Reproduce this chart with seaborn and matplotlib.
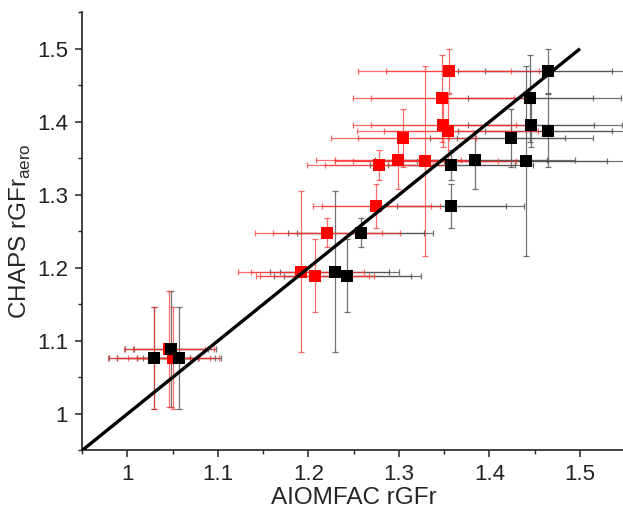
import numpy as np
import pandas as pd
import matplotlib
matplotlib.use("Agg")
import matplotlib.pyplot as plt
import seaborn as sns
from matplotlib.ticker import MultipleLocator, FuncFormatter

# ---- data ----
chaps_y = [1.470, 1.432, 1.396, 1.388, 1.378, 1.348, 1.346, 1.341, 1.285, 1.248, 1.195, 1.189, 1.077, 1.089, 1.077]
chaps_err = [0.03, 0.06, 0.03, 0.05, 0.04, 0.04, 0.13, 0.02, 0.03, 0.02, 0.11, 0.05, 0.07, 0.08, 0.07]

aiomfac_black = [1.465, 1.445, 1.446, 1.465, 1.424, 1.384, 1.440, 1.358, 1.358, 1.258, 1.229, 1.243, 1.029, 1.048, 1.057]
black_err_outer = [0.10, 0.10, 0.10, 0.10, 0.09, 0.11, 0.12, 0.09, 0.08, 0.08, 0.071, 0.081, 0.049, 0.05, 0.046]
black_err_inner = [0.07, 0.069, 0.07, 0.07, 0.06, 0.08, 0.09, 0.07, 0.06, 0.07, 0.06, 0.07, 0.04, 0.041, 0.04]

aiomfac_red = [1.355, 1.348, 1.349, 1.354, 1.305, 1.299, 1.329, 1.278, 1.275, 1.221, 1.192, 1.207, 1.029, 1.046, 1.051]
red_err_outer = [0.10, 0.099, 0.10, 0.10, 0.08, 0.09, 0.10, 0.08, 0.07, 0.08, 0.07, 0.065, 0.05, 0.05, 0.05]
red_err_inner = [0.069, 0.079, 0.08, 0.07, 0.05, 0.07, 0.08, 0.06, 0.06, 0.06, 0.055, 0.06, 0.04, 0.04, 0.04]

one_to_one = [0.95, 1.5]

df = pd.DataFrame({'chaps': chaps_y * 2,
                   'aiomfac': aiomfac_black + aiomfac_red,
                   'set': ['black'] * len(chaps_y) + ['red'] * len(chaps_y)})

# ***************************************************
sns.set_theme(style='ticks')
plt.rcParams['font.family'] = ['Liberation Sans', 'DejaVu Sans']
plt.rcParams['mathtext.fontset'] = 'custom'
plt.rcParams['mathtext.rm'] = 'Liberation Sans'

fig = plt.figure(figsize=(6.23, 5.11), dpi=100)
ax = fig.add_axes([0.1316, 0.1184, 0.8720, 0.8576])

ebar_kw = dict(fmt='none', elinewidth=0.9, capsize=2.3, capthick=0.9)

# black series error bars (grey look)
ax.errorbar(aiomfac_black, chaps_y, xerr=black_err_outer, yerr=chaps_err,
            ecolor='#505050', alpha=0.8, zorder=2, **ebar_kw)
ax.errorbar(aiomfac_black, chaps_y, xerr=black_err_inner,
            ecolor='#505050', alpha=0.8, zorder=2, **ebar_kw)
# red series error bars
ax.errorbar(aiomfac_red, chaps_y, xerr=red_err_outer, yerr=chaps_err,
            ecolor='#ff3030', alpha=0.7, zorder=3, **ebar_kw)
ax.errorbar(aiomfac_red, chaps_y, xerr=red_err_inner,
            ecolor='#ff3030', alpha=0.7, zorder=3, **ebar_kw)

sns.scatterplot(data=df[df['set'] == 'red'], x='aiomfac', y='chaps', marker='s',
                color='#ff0000', s=65, linewidth=0, zorder=4, ax=ax)
sns.scatterplot(data=df[df['set'] == 'black'], x='aiomfac', y='chaps', marker='s',
                color='black', s=65, linewidth=0, zorder=5, ax=ax)

ax.plot(one_to_one, one_to_one, color='black', lw=2.4, zorder=6, solid_capstyle='butt')

ax.set_xlim(0.95, 1.55)
ax.set_ylim(0.95, 1.55)
ax.xaxis.set_major_locator(MultipleLocator(0.1))
ax.yaxis.set_major_locator(MultipleLocator(0.1))
ax.xaxis.set_minor_locator(MultipleLocator(0.05))
ax.yaxis.set_minor_locator(MultipleLocator(0.05))
fmt = FuncFormatter(lambda v, p: '%g' % round(v, 2))
ax.xaxis.set_major_formatter(fmt)
ax.yaxis.set_major_formatter(fmt)
ax.tick_params(which='major', direction='out', length=5, width=1.1, labelsize=16, colors='#222222', pad=5)
ax.tick_params(which='minor', direction='out', length=3, width=1.0, colors='#222222')

for s in ['top', 'right']:
    ax.spines[s].set_visible(False)
for s in ['left', 'bottom']:
    ax.spines[s].set_linewidth(1.2)
    ax.spines[s].set_color('#222222')

ax.set_xlabel('AIOMFAC rGFr', fontsize=17.5, labelpad=1)
ax.set_ylabel(r'CHAPS rGFr$_{\mathregular{aero}}$', fontsize=17.5, labelpad=3)

fig.savefig('out.png', dpi=100)
